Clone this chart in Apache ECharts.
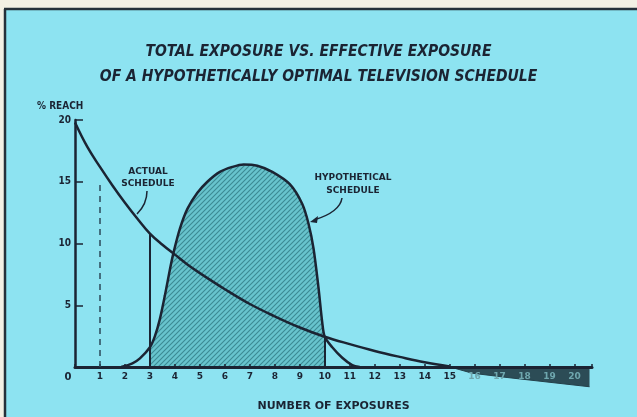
<!DOCTYPE html>
<html>
<head>
<meta charset="utf-8">
<script src="https://cdn.jsdelivr.net/npm/echarts@6/dist/echarts.min.js"></script>
<style>
  html, body { margin: 0; padding: 0; background: #8de3f1; }
  #exposure-echar { width: 637px; height: 417px; }
</style>
</head>
<body>
<div id="exposure-echar"></div>
<script>
// 曲线数据 (number of exposures, % reach)
var actualX = [0, 0.5, 1, 1.5, 2, 2.5, 3, 3.5, 4, 4.5, 5, 6, 7, 8, 9, 10, 11, 12, 13, 14, 15];
var actualY = [19.8, 17.8, 16.2, 14.7, 13.3, 12.0, 10.8, 9.9, 9.1, 8.3, 7.6, 6.3, 5.1, 4.1, 3.2, 2.45, 1.85, 1.3, 0.82, 0.38, 0.05];

var hypX = [1.85, 2.3, 2.6, 3.0, 3.2, 3.4, 3.6, 3.8, 3.95, 4.2, 4.5, 4.9, 5.3, 5.8, 6.3, 6.75, 7.3, 7.9, 8.6, 9.1, 9.35, 9.55, 9.75, 9.9, 10.0, 10.3, 10.7, 11.1, 11.4];
var hypY = [0, 0.3, 0.7, 1.6, 2.5, 3.9, 5.8, 7.9, 9.3, 11.2, 12.8, 14.1, 15.0, 15.8, 16.2, 16.4, 16.3, 15.8, 14.8, 13.2, 11.6, 9.6, 6.4, 3.6, 2.45, 1.6, 0.75, 0.15, 0];

// 右端阴影 (below the axis)
var tailX = [15.2, 15.9, 17.3, 20.6];
var tailY = [-0.1, -0.5, -0.85, -1.6];

var yTicks = [5, 10, 15, 20];
var dashX = 1, dashTop = 15;
var effStart = 3, effEnd = 10;

function pairs(xs, ys){
  var out = [];
  for(var i = 0; i < xs.length; i++){ out.push([xs[i], ys[i]]); }
  return out;
}
function valueAt(xs, ys, x){
  for(var i = 0; i < xs.length - 1; i++){
    if(x >= xs[i] && x <= xs[i+1]){
      return ys[i] + (ys[i+1] - ys[i]) * (x - xs[i]) / (xs[i+1] - xs[i]);
    }
  }
  return 0;
}

var actualData = pairs(actualX, actualY);
var hypData = pairs(hypX, hypY);
var effData = hypData.filter(function(p){ return p[0] >= effStart && p[0] <= effEnd; });
var tailData = pairs(tailX, tailY);

// 斜线填充
var hatch = document.createElement('canvas');
hatch.width = 5; hatch.height = 5;
var hc = hatch.getContext('2d');
hc.fillStyle = '#68c4cd';
hc.fillRect(0, 0, 5, 5);
hc.strokeStyle = '#3c8a93';
hc.lineWidth = 1.1;
hc.beginPath();
hc.moveTo(-1, 6); hc.lineTo(6, -1);
hc.moveTo(-1, 1); hc.lineTo(1, -1);
hc.moveTo(4, 6); hc.lineTo(6, 4);
hc.stroke();

var ink = '#1b2433';
var chart = echarts.init(document.getElementById('exposure-echar'));
var option = {
  animation: false,
  backgroundColor: '#8de3f1',
  title: {
    text: 'TOTAL EXPOSURE VS. EFFECTIVE EXPOSURE\nOF A HYPOTHETICALLY OPTIMAL TELEVISION SCHEDULE',
    left: 'center',
    top: 34,
    textStyle: {
      fontFamily: '"DejaVu Sans Condensed", "DejaVu Sans", sans-serif',
      fontSize: 15.5,
      fontStyle: 'italic',
      fontWeight: 'bold',
      lineHeight: 25,
      color: ink
    }
  },
  grid: { left: 75, right: 45, top: 120, bottom: 50, containLabel: false },
  xAxis: {
    type: 'value',
    min: 0,
    max: 20.7,
    interval: 1,
    z: 3,
    splitLine: { show: false },
    axisLine: { lineStyle: { color: ink, width: 3 } },
    axisTick: { show: true, inside: true, length: 3, lineStyle: { color: ink, width: 1.5 } },
    axisLabel: {
      margin: 5,
      fontFamily: '"DejaVu Sans", sans-serif',
      fontSize: 9,
      fontWeight: 'bold',
      color: function(v){ return v > 15 ? '#6fa7ae' : ink; },
      formatter: function(v){
        if(v % 1 !== 0) return '';
        return v === 0 ? '{z|0}' : String(v);
      },
      rich: { z: { padding: [0, 14, 0, 0], fontSize: 10, fontWeight: 'bold', color: ink } }
    },
    name: 'NUMBER OF EXPOSURES',
    nameLocation: 'middle',
    nameGap: 34,
    nameTextStyle: { fontFamily: '"DejaVu Sans", sans-serif', fontSize: 11, fontWeight: 'bold', color: ink }
  },
  yAxis: {
    type: 'value',
    min: 0,
    max: 20,
    interval: 5,
    splitLine: { show: false },
    axisLine: { show: true, lineStyle: { color: ink, width: 2.5 } },
    axisTick: { show: true, inside: true, length: 8, lineStyle: { color: ink, width: 1.5 } },
    axisLabel: {
      margin: 4,
      fontFamily: '"DejaVu Sans Condensed", "DejaVu Sans", sans-serif',
      fontSize: 10,
      fontWeight: 'bold',
      color: ink,
      formatter: function(v){ return yTicks.indexOf(v) >= 0 ? String(v) : ''; }
    }
  },
  series: [
    {
      name: 'Effective exposure',
      type: 'line',
      data: effData,
      smooth: 0.3,
      showSymbol: false,
      lineStyle: { width: 0 },
      areaStyle: { color: { image: hatch, repeat: 'repeat' }, opacity: 1 },
      z: 1
    },
    {
      name: 'Hypothetical schedule',
      type: 'line',
      data: hypData,
      smooth: 0.3,
      showSymbol: false,
      lineStyle: { color: ink, width: 2.5 }
    },
    {
      name: 'Actual schedule',
      type: 'line',
      data: actualData,
      smooth: 0.4,
      showSymbol: false,
      lineStyle: { color: ink, width: 2.5 },
      markLine: {
        silent: true,
        symbol: 'none',
        label: { show: false },
        lineStyle: { color: ink, width: 2, type: 'solid' },
        data: [
          [{ coord: [dashX, 0], lineStyle: { type: [6, 5], width: 1.5, color: '#2b4a5a' } }, { coord: [dashX, dashTop] }],
          [{ coord: [effStart, 0] }, { coord: [effStart, valueAt(actualX, actualY, effStart)] }],
          [{ coord: [effEnd, 0] }, { coord: [effEnd, valueAt(hypX, hypY, effEnd)] }]
        ]
      }
    },
    {
      name: 'tail',
      type: 'line',
      data: tailData,
      clip: false,
      showSymbol: false,
      lineStyle: { color: '#24414b', width: 1 },
      areaStyle: { color: '#2c4c56', opacity: 1 },
      z: 2
    }
  ],
  graphic: [
    // 边框
    { type: 'rect', shape: { x: 0, y: 0, width: 637, height: 8 }, style: { fill: '#f3f0e4' }, silent: true },
    { type: 'rect', shape: { x: 0, y: 0, width: 4, height: 417 }, style: { fill: '#f3f0e4' }, silent: true },
    { type: 'line', shape: { x1: 4, y1: 9, x2: 637, y2: 9 }, style: { stroke: '#25303a', lineWidth: 2.5 }, silent: true },
    { type: 'line', shape: { x1: 5, y1: 9, x2: 5, y2: 417 }, style: { stroke: '#25303a', lineWidth: 2.5 }, silent: true },
    // 标注
    { type: 'text', x: 37, y: 106, style: { text: '% REACH', fill: ink, font: 'bold 10px "DejaVu Sans Condensed", "DejaVu Sans", sans-serif', verticalAlign: 'middle' } },
    { type: 'text', x: 148, y: 178, style: { text: 'ACTUAL\nSCHEDULE', fill: ink, font: 'bold 9px "DejaVu Sans", sans-serif', align: 'center', verticalAlign: 'middle', lineHeight: 12 } },
    { type: 'bezierCurve', shape: { x1: 147, y1: 191, x2: 137, y2: 214, cpx1: 147, cpy1: 204 }, style: { stroke: ink, lineWidth: 1.5, fill: null } },
    { type: 'text', x: 353, y: 184, style: { text: 'HYPOTHETICAL\nSCHEDULE', fill: ink, font: 'bold 9px "DejaVu Sans", sans-serif', align: 'center', verticalAlign: 'middle', lineHeight: 13 } },
    { type: 'bezierCurve', shape: { x1: 342, y1: 198, x2: 314, y2: 220, cpx1: 340, cpy1: 212 }, style: { stroke: ink, lineWidth: 1.5, fill: null } },
    { type: 'polygon', shape: { points: [[310, 222], [318, 216], [317, 223]] }, style: { fill: ink } },
    { type: 'text', x: 222, y: 334, style: { text: 'EFFECTIVE\nEXPOSURE', fill: '#24525a', font: 'bold 9px "DejaVu Sans", sans-serif', align: 'center', verticalAlign: 'middle', lineHeight: 13 } }
  ]
};
chart.setOption(option);
window.onresize = function(){ chart.resize(); };
</script>
</body>
</html>
